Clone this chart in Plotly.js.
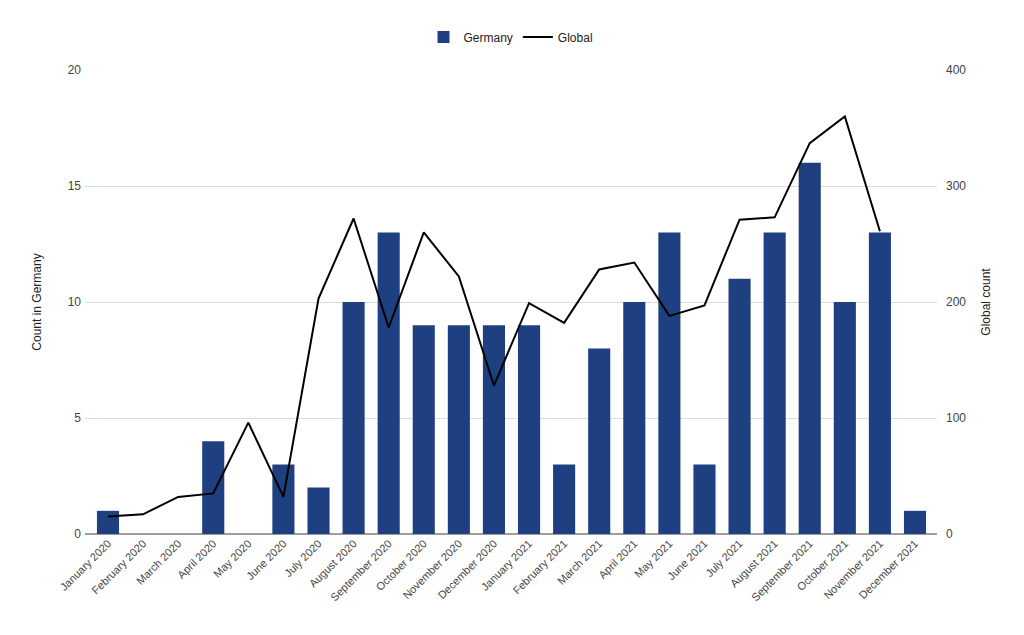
<!DOCTYPE html>
<html>
<head>
<meta charset="utf-8">
<script src="https://cdn.plot.ly/plotly-3.0.1.min.js"></script>
<style>html,body{margin:0;padding:0;background:#fff;}#chart{width:1024px;height:635px;}</style>
</head>
<body>
<div id="chart"></div>
<script>
const months = ["January 2020","February 2020","March 2020","April 2020","May 2020","June 2020","July 2020","August 2020","September 2020","October 2020","November 2020","December 2020","January 2021","February 2021","March 2021","April 2021","May 2021","June 2021","July 2021","August 2021","September 2021","October 2021","November 2021","December 2021"];
const germanyCounts = [1,0,0,4,0,3,2,10,13,9,9,9,9,3,8,10,13,3,11,13,16,10,13,1];
const globalCounts = [15,17,32,35,96,32,203,272,178,260,222,128,199,182,228,234,188,197,271,273,337,360,261,null];

const font = "Liberation Sans, Arial, sans-serif";
const traces = [
  {type:"bar", name:"Germany", x:months, y:germanyCounts, marker:{color:"#1f4080"}, yaxis:"y"},
  {type:"scatter", mode:"lines", name:"Global", x:months, y:globalCounts, line:{color:"#000000", width:2}, yaxis:"y2", connectgaps:false}
];
const layout = {
  width:1024, height:635,
  margin:{l:85, r:87, t:70, b:101},
  paper_bgcolor:"#fff", plot_bgcolor:"#fff",
  font:{family:font, size:12, color:"#444"},
  bargap:0.37,
  showlegend:true,
  legend:{orientation:"h", x:0.5, xanchor:"center", y:1.071, yanchor:"middle", font:{family:font, size:12, color:"#222"}},
  xaxis:{type:"category", range:[-0.655, 23.627], tickangle:-45, showgrid:false, zeroline:false, showline:false, ticks:"", tickfont:{family:font, size:11, color:"#444"}, automargin:false},
  yaxis:{range:[0,20], tickvals:[0,5,10,15,20], showgrid:true, gridcolor:"#dcdcdc", zeroline:true, zerolinecolor:"#9e9e9e", zerolinewidth:2, showline:false, ticks:"", tickfont:{family:font, size:12, color:"#444"}, ticklabelstandoff:3,
    title:{text:"Count in Germany", font:{family:font, size:12, color:"#222"}, standoff:23}, automargin:false},
  yaxis2:{range:[0,400], tickvals:[0,100,200,300,400], overlaying:"y", side:"right", showgrid:false, zeroline:false, showline:false, ticks:"", tickfont:{family:font, size:12, color:"#444"}, ticklabelstandoff:8,
    title:{text:"Global count", font:{family:font, size:12, color:"#222"}, standoff:16}, automargin:false}
};
Plotly.newPlot("chart", traces, layout, {displayModeBar:false, staticPlot:true});
</script>
</body>
</html>
